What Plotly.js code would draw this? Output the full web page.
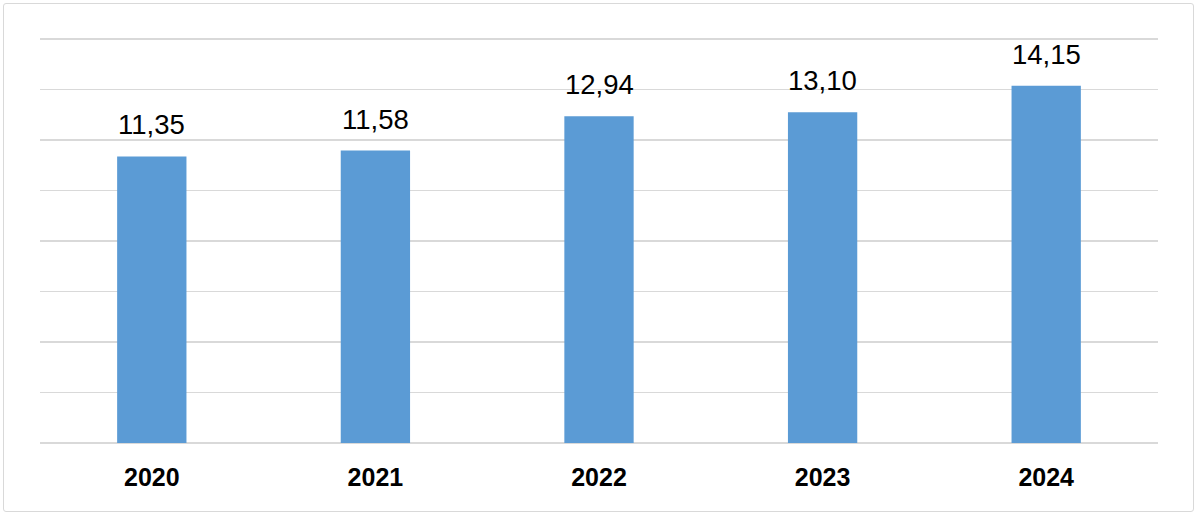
<!DOCTYPE html>
<html>
<head>
<meta charset="utf-8">
<script src="https://cdn.plot.ly/plotly-3.0.1.min.js"></script>
<style>
html,body{margin:0;padding:0;background:#fff;}
#wrap{position:relative;width:1200px;height:516px;}
#chart{width:1200px;height:516px;}
#frame{position:absolute;left:3px;top:3px;width:1189px;height:507px;border:1.5px solid #d9d9d9;border-radius:3px;pointer-events:none;}
</style>
</head>
<body>
<div id="wrap"><div id="chart"></div><div id="frame"></div></div>
<script>
const categories = ['2020', '2021', '2022', '2023', '2024'];
const values = [11.35, 11.58, 12.94, 13.10, 14.15];
const labels = values.map(v => v.toFixed(2).replace('.', ','));

const trace = {
  type: 'bar',
  x: categories,
  y: values,
  marker: {color: '#5B9BD5'},
  hoverinfo: 'none'
};

const annotations = categories.map((c, i) => ({
  x: i, y: values[i], xref: 'x', yref: 'y',
  text: labels[i], showarrow: false,
  yanchor: 'bottom', yshift: 14,
  font: {family: 'Liberation Sans, Arial, sans-serif', size: 27.5, color: '#000'}
}));

const layout = {
  width: 1200, height: 516,
  margin: {l: 40, r: 42, t: 38, b: 73},
  paper_bgcolor: '#fff', plot_bgcolor: '#fff',
  bargap: 0.69,
  showlegend: false,
  xaxis: {
    type: 'category',
    range: [-0.5, 4.5],
    tickfont: {family: 'Liberation Sans, Arial, sans-serif', size: 25, color: '#000', weight: 'bold'},
    ticks: 'outside', ticklen: 12, tickcolor: 'rgba(0,0,0,0)',
    showline: false, showgrid: false, zeroline: false
  },
  yaxis: {
    range: [0, 16.04], dtick: 2, showticklabels: false,
    showgrid: true, gridcolor: '#d9d9d9', gridwidth: 1.5,
    zeroline: true, zerolinecolor: '#d9d9d9', zerolinewidth: 1.5,
    showline: false
  },
  annotations: annotations
};

Plotly.newPlot('chart', [trace], layout, {displayModeBar: false, staticPlot: true});
</script>
</body>
</html>
